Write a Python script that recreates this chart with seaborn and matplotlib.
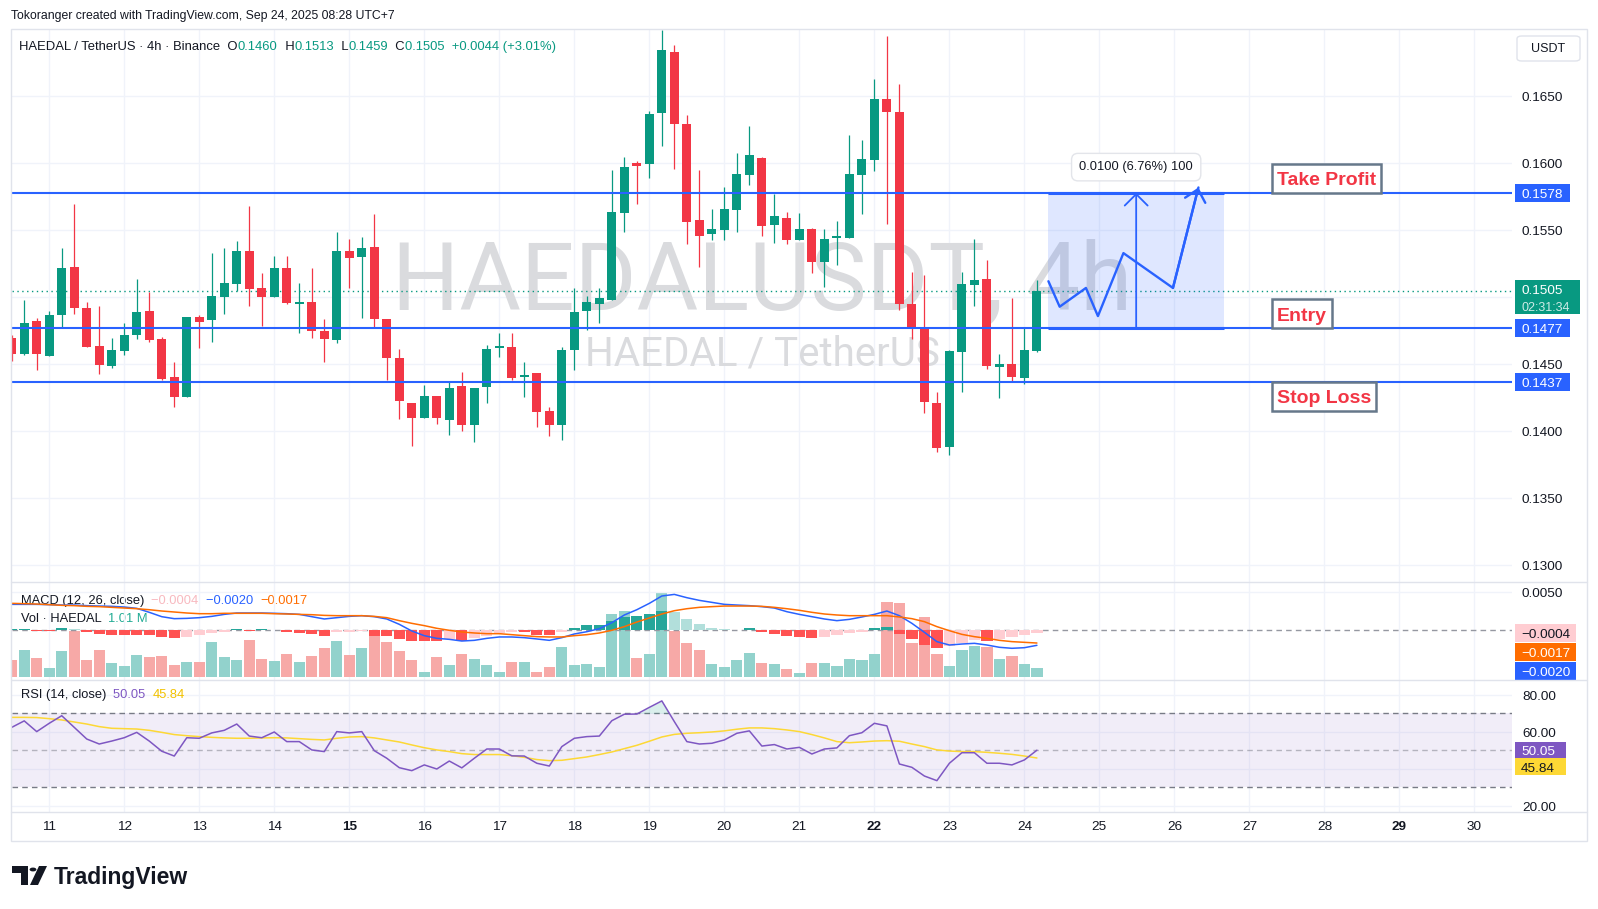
import numpy as np
import pandas as pd
import seaborn as sns
import matplotlib.pyplot as plt
from matplotlib.patches import Rectangle, FancyBboxPatch, Polygon, Circle
from matplotlib.transforms import Bbox, TransformedBbox

sns.set_theme(style='white')
plt.rcParams['font.family'] = ['Liberation Sans', 'DejaVu Sans']

# ---------------- data (4h candles, HAEDAL/USDT) ----------------
first_day = 10.5   # first candle, Sep 10 12:00

opens = [0.14696, 0.14579, 0.14823, 0.14564, 0.14868, 0.15226, 0.14920, 0.14637, 0.14490, 0.14602,
         0.14719, 0.14898, 0.14689, 0.14405, 0.14258, 0.14853, 0.14833, 0.15005, 0.15102, 0.15346,
         0.15070, 0.15005, 0.15219, 0.14953, 0.14965, 0.14749, 0.14684, 0.15346, 0.15303, 0.15376,
         0.14838, 0.14547, 0.14211, 0.14102, 0.14263, 0.14087, 0.14338, 0.14050, 0.14333, 0.14624,
         0.14629, 0.14408, 0.14434, 0.14151, 0.14049, 0.14608, 0.14899, 0.14949, 0.14979, 0.15631,
         0.16002, 0.15997, 0.16377, 0.16830, 0.16293, 0.15576, 0.15474, 0.15504, 0.15653, 0.15915,
         0.16042, 0.15541, 0.15591, 0.15429, 0.15509, 0.15265, 0.15444, 0.15444, 0.15915, 0.16027,
         0.16479, 0.16385, 0.14949, 0.14775, 0.14210, 0.13884, 0.14593, 0.15094, 0.15136, 0.14482,
         0.14504, 0.14399, 0.14600]
highs = [0.14716, 0.14980, 0.14846, 0.14898, 0.15368, 0.15697, 0.14965, 0.14933, 0.14696, 0.14808,
         0.15137, 0.15040, 0.14704, 0.14517, 0.14853, 0.14868, 0.15331, 0.15368, 0.15420, 0.15682,
         0.15181, 0.15308, 0.15308, 0.15107, 0.15219, 0.14838, 0.15488, 0.15435, 0.15450, 0.15622,
         0.14838, 0.14614, 0.14211, 0.14346, 0.14263, 0.14368, 0.14443, 0.14323, 0.14644, 0.14734,
         0.14734, 0.14517, 0.14434, 0.14180, 0.14628, 0.15069, 0.15009, 0.15069, 0.15949, 0.16046,
         0.16017, 0.16390, 0.16994, 0.16882, 0.16360, 0.15949, 0.15658, 0.15823, 0.16076, 0.16278,
         0.16050, 0.15770, 0.15636, 0.15628, 0.15517, 0.15509, 0.15569, 0.16211, 0.16173, 0.16629,
         0.16950, 0.16591, 0.15186, 0.15163, 0.14292, 0.14606, 0.15188, 0.15434, 0.15278, 0.14576,
         0.14997, 0.14770, 0.15130]
lows = [0.14525, 0.14572, 0.14460, 0.14564, 0.14778, 0.14878, 0.14632, 0.14430, 0.14475, 0.14572,
        0.14691, 0.14669, 0.14385, 0.14184, 0.14258, 0.14624, 0.14669, 0.14878, 0.15050, 0.14938,
        0.14788, 0.15005, 0.14950, 0.14736, 0.14699, 0.14520, 0.14662, 0.15072, 0.14848, 0.14781,
        0.14385, 0.14094, 0.13893, 0.14102, 0.14057, 0.13975, 0.14005, 0.13923, 0.14214, 0.14557,
        0.14385, 0.14258, 0.14034, 0.13966, 0.13937, 0.14459, 0.14758, 0.14810, 0.14979, 0.15489,
        0.15698, 0.15892, 0.16131, 0.15959, 0.15400, 0.15228, 0.15429, 0.15429, 0.15489, 0.15840,
        0.15459, 0.15407, 0.15400, 0.15429, 0.15183, 0.15079, 0.15243, 0.15444, 0.15623, 0.15944,
        0.15549, 0.14907, 0.14691, 0.14138, 0.13845, 0.13825, 0.14295, 0.14937, 0.14467, 0.14250,
        0.14377, 0.14355, 0.14590]
closes = [0.14579, 0.14808, 0.14579, 0.14868, 0.15219, 0.14923, 0.14632, 0.14497, 0.14607, 0.14719,
          0.14890, 0.14684, 0.14393, 0.14258, 0.14853, 0.14818, 0.15010, 0.15107, 0.15346, 0.15065,
          0.15005, 0.15219, 0.14958, 0.14963, 0.14751, 0.14691, 0.15346, 0.15296, 0.15368, 0.14841,
          0.14550, 0.14229, 0.14102, 0.14263, 0.14102, 0.14323, 0.14050, 0.14323, 0.14614, 0.14634,
          0.14400, 0.14415, 0.14146, 0.14049, 0.14606, 0.14890, 0.14964, 0.14994, 0.15636, 0.15972,
          0.15982, 0.16367, 0.16845, 0.16295, 0.15564, 0.15459, 0.15509, 0.15658, 0.15920, 0.16061,
          0.15534, 0.15606, 0.15429, 0.15509, 0.15265, 0.15434, 0.15454, 0.15920, 0.16032, 0.16479,
          0.16385, 0.14952, 0.14773, 0.14220, 0.13877, 0.14598, 0.15099, 0.15128, 0.14489, 0.14499,
          0.14407, 0.14610, 0.15050]
volumes = [1.9, 3.0, 2.1, 1.0, 2.9, 5.1, 1.9, 3.0, 1.6, 1.2,
           2.4, 2.2, 2.3, 1.3, 1.7, 1.7, 3.9, 2.2, 1.9, 4.1,
           2.0, 1.8, 2.6, 1.7, 2.3, 3.2, 4.0, 2.4, 3.2, 4.6,
           3.9, 2.9, 1.9, 0.55, 2.2, 1.3, 2.6, 2.0, 1.3, 0.55,
           1.7, 1.7, 0.55, 1.1, 3.3, 1.3, 1.4, 1.1, 7.0, 7.3,
           2.1, 2.6, 9.3, 5.1, 3.8, 3.0, 1.4, 1.1, 1.9, 2.7,
           1.6, 1.4, 0.9, 0.45, 1.6, 1.6, 1.2, 2.0, 1.9, 2.6,
           8.3, 8.2, 3.8, 6.7, 2.6, 1.2, 3.0, 3.4, 3.3, 2.0,
           2.3, 1.4, 1.01]  # millions
macd_line = [0.00335, 0.00335, 0.00335, 0.00331, 0.00326, 0.00326, 0.00318, 0.00313, 0.00309, 0.00300,
             0.00283, 0.00231, 0.00174, 0.00148, 0.00152, 0.00161, 0.00178, 0.00204, 0.00222, 0.00222,
             0.00222, 0.00218, 0.00213, 0.00204, 0.00174, 0.00144, 0.00161, 0.00178, 0.00187, 0.00174,
             0.00144, 0.00074, -0.00013, -0.00074, -0.00109, -0.00122, -0.00144, -0.00135, -0.00109, -0.00091,
             -0.00091, -0.00100, -0.00117, -0.00135, -0.00100, -0.00052, -0.00022, 0.00017, 0.00096, 0.00196,
             0.00265, 0.00348, 0.00444, 0.00465, 0.00422, 0.00387, 0.00361, 0.00335, 0.00326, 0.00318,
             0.00305, 0.00287, 0.00239, 0.00204, 0.00174, 0.00144, 0.00122, 0.00139, 0.00170, 0.00204,
             0.00248, 0.00187, 0.00087, -0.00030, -0.00152, -0.00196, -0.00183, -0.00174, -0.00196, -0.00226,
             -0.00239, -0.00231, -0.00200]
signal_line = [0.00348, 0.00344, 0.00339, 0.00331, 0.00322, 0.00318, 0.00309, 0.00305, 0.00296, 0.00287,
               0.00278, 0.00265, 0.00248, 0.00235, 0.00222, 0.00213, 0.00213, 0.00218, 0.00218, 0.00218,
               0.00218, 0.00213, 0.00209, 0.00204, 0.00200, 0.00191, 0.00187, 0.00187, 0.00187, 0.00178,
               0.00161, 0.00122, 0.00087, 0.00057, 0.00022, -0.00004, -0.00026, -0.00039, -0.00048, -0.00048,
               -0.00061, -0.00074, -0.00087, -0.00091, -0.00091, -0.00074, -0.00061, -0.00039, -0.00004, 0.00044,
               0.00104, 0.00157, 0.00209, 0.00252, 0.00278, 0.00296, 0.00305, 0.00313, 0.00313, 0.00313,
               0.00309, 0.00296, 0.00278, 0.00257, 0.00231, 0.00209, 0.00196, 0.00187, 0.00187, 0.00187,
               0.00187, 0.00170, 0.00148, 0.00109, 0.00044, -0.00009, -0.00057, -0.00087, -0.00109, -0.00135,
               -0.00152, -0.00161, -0.00170]
macd_hist = [0.0001, 0.0001, -0.0001, -0.0001, 0.0003, 0.0001, -0.0002, -0.0005, -0.0006, -0.0006,
             -0.0006, -0.0007, -0.0009, -0.0011, -0.0009, -0.0006, -0.0004, -0.0003, 0.0001, -0.0001,
             0.0001, 0.0000, -0.0002, -0.0004, -0.0005, -0.0008, -0.0003, -0.0002, -0.0001, -0.0008,
             -0.0008, -0.0012, -0.0014, -0.0015, -0.0015, -0.0012, -0.0014, -0.0011, -0.0008, -0.0004,
             -0.0003, -0.0003, -0.0006, -0.0007, -0.0002, 0.0003, 0.0006, 0.0007, 0.0012, 0.0017,
             0.0018, 0.0021, 0.0025, 0.0023, 0.0014, 0.0008, 0.0003, 0.0001, 0.00005, 0.0002,
             -0.0003, -0.0005, -0.0008, -0.0009, -0.0010, -0.0009, -0.0007, -0.0004, -0.0002, 0.0003,
             0.0004, -0.0005, -0.0012, -0.0020, -0.0024, -0.0021, -0.0017, -0.0013, -0.0014, -0.0012,
             -0.0009, -0.0007, -0.0004]
rsi_vals = [62.4, 65.9, 60.1, 64.6, 68.7, 62.4, 56.1, 53.4, 55.0, 56.8,
            59.7, 55.0, 49.5, 46.9, 56.8, 56.5, 59.4, 60.8, 64.2, 57.7,
            56.8, 59.9, 54.7, 54.7, 50.2, 49.3, 60.1, 59.4, 60.1, 49.8,
            45.7, 40.6, 39.0, 42.1, 39.9, 44.2, 40.5, 45.7, 50.7, 50.7,
            47.0, 46.9, 43.0, 41.5, 52.0, 56.5, 57.4, 57.7, 66.0, 69.5,
            69.6, 73.2, 76.7, 65.5, 54.7, 53.4, 53.8, 55.6, 59.2, 60.5,
            52.3, 53.1, 50.7, 51.6, 48.0, 50.7, 51.3, 57.9, 59.5, 64.6,
            63.2, 42.6, 40.8, 36.1, 33.6, 43.0, 48.7, 48.7, 43.0, 43.0,
            42.1, 44.8, 50.05]
rsi_ma = [67.8, 67.8, 67.7, 67.1, 66.4, 65.3, 64.2, 62.8, 61.9, 61.7,
          61.5, 60.8, 59.7, 58.5, 57.9, 57.4, 57.0, 56.7, 56.5, 56.5,
          56.7, 56.8, 56.7, 56.3, 55.9, 55.6, 56.5, 57.2, 57.4, 56.7,
          55.6, 54.5, 52.9, 51.4, 50.2, 49.3, 48.2, 47.7, 47.7, 47.7,
          47.1, 46.2, 45.0, 44.4, 44.6, 45.5, 46.4, 47.7, 49.1, 50.9,
          52.7, 54.9, 57.2, 58.6, 59.2, 59.5, 59.9, 60.5, 61.4, 62.1,
          62.1, 61.7, 61.0, 60.1, 58.5, 56.7, 54.7, 54.1, 54.5, 55.0,
          55.2, 54.9, 53.4, 52.0, 50.2, 49.6, 49.3, 49.3, 48.9, 48.4,
          47.8, 46.9, 45.84]

# trade plan drawn on the chart
levels = [0.1578, 0.1477, 0.1437]
level_names = ['Take Profit', 'Entry', 'Stop Loss']
label_above = [True, True, False]
box_days = [24.32, 26.66]
arrow_day = 25.49
path_days = [24.32, 24.47, 24.82, 24.98, 25.32, 25.98, 26.32]
path_prices = [0.1512, 0.1493, 0.1507, 0.1486, 0.1533, 0.1507, 0.1582]
measure_text = '0.0100 (6.76%) 100'
countdown = '02:31:34'

price_ticks = [0.1300, 0.1350, 0.1400, 0.1450, 0.1500, 0.1550, 0.1600, 0.1650]
price_tick_labels = [0.1300, 0.1350, 0.1400, 0.1450, 0.1550, 0.1600, 0.1650]  # 0.1500 sits under the price tag
day_ticks = [11, 12, 13, 14, 15, 16, 17, 18, 19, 20, 21, 22, 23, 24, 25, 26, 27, 28, 29, 30]
bold_days = [15, 22, 29]
rsi_ticks = [80, 60, 40, 20]

df = pd.DataFrame({'open': opens, 'high': highs, 'low': lows, 'close': closes,
                   'vol': volumes, 'macd': macd_line, 'signal': signal_line,
                   'hist': macd_hist, 'rsi': rsi_vals, 'rsi_ma': rsi_ma})
df['t'] = first_day + np.arange(len(df)) / 6.0

UP, DOWN = '#089981', '#F23645'
BLUE, ORANGE, PURPLE, YELLOW = '#2962FF', '#FF6D00', '#7E57C2', '#FDD835'
GRID, TEXT, BORDER = '#f0f3fa', '#131722', '#e0e3eb'

# ---------------- layout ----------------
W, H = 1598, 909
fig = plt.figure(figsize=(W / 100, H / 100), dpi=100)
fig.patch.set_facecolor('white')
L, R = 11.5, 1512
P_TOP, P_BOT, M_BOT, R_BOT = 29.5, 582.3, 680, 812


def rect(top, bottom):
    return [L / W, 1 - bottom / H, (R - L) / W, (bottom - top) / H]


ax_p = fig.add_axes(rect(P_TOP, P_BOT))
ax_v = fig.add_axes(rect(P_BOT, M_BOT))
ax_m = fig.add_axes(rect(P_BOT, M_BOT))
ax_r = fig.add_axes(rect(M_BOT, R_BOT))
for a in (ax_p, ax_v, ax_m, ax_r):
    a.set_xlim(10.497, 30.5)
    a.set_xticks([])
    a.set_yticks([])
    for s in a.spines.values():
        s.set_visible(False)
    a.set_facecolor('none')
ax_p.set_ylim(0.12873, 0.16999)
ax_v.set_ylim(-0.33, 10.52)
ax_m.set_ylim(-0.00653, 0.00623)
ax_r.set_ylim(16.65, 88.0)


def ypx(ax, v):
    return H - ax.transData.transform((20.0, v))[1]


def xpx(ax, d):
    return ax.transData.transform((d, 0.0))[0]


def ftext(x, y, s, **kw):
    return fig.text(x / W, 1 - y / H, s, **kw)


def frect(x0, y0, x1, y1, **kw):
    r = Rectangle((x0 / W, 1 - y1 / H), (x1 - x0) / W, (y1 - y0) / H,
                  transform=fig.transFigure, **kw)
    fig.add_artist(r)
    return r


# grid
for a in (ax_p, ax_v, ax_r):
    for d in day_ticks:
        a.axvline(d, color=GRID, lw=1, zorder=0)
for p in price_ticks:
    ax_p.axhline(p, color=GRID, lw=1, zorder=0)
ax_m.axhline(0.005, color=GRID, lw=1, zorder=0)
for v in rsi_ticks:
    ax_r.axhline(v, color=GRID, lw=1, zorder=0)

# watermark (inside the price pane, below the candles)
ax_p.text(762 / W, 1 - 309 / H, 'HAEDALUSDT, 4h', transform=fig.transFigure, fontsize=68,
          family='Roboto', color='#dadbde', ha='center', va='baseline', zorder=0.5)
ax_p.text(762 / W, 1 - 365 / H, 'HAEDAL / TetherUS', transform=fig.transFigure, fontsize=29,
          family='Roboto', color='#dadbde', ha='center', va='baseline', zorder=0.5)

# ---------------- candles ----------------
up = df['close'] >= df['open']
ccol = np.where(up, UP, DOWN)
ax_p.vlines(df['t'], df['low'], df['high'], colors=ccol, lw=0.9, zorder=3)
body = np.maximum((df['close'] - df['open']).abs(), 0.0001)
ax_p.bar(df['t'], body, bottom=np.minimum(df['open'], df['close']), width=0.12,
         color=ccol, lw=0, zorder=4)

# current price dotted line
ax_p.axhline(df['close'].iloc[-1], color=UP, lw=1, ls=(0, (1, 2.5)), zorder=2)

# trade levels
for lvl in levels:
    ax_p.axhline(lvl, color=BLUE, lw=1.5, zorder=5)

# long position box
tp, entry = levels[0], levels[1]
ax_p.add_patch(Rectangle((box_days[0], entry), box_days[1] - box_days[0], tp - entry,
                         fc=BLUE, alpha=0.15, lw=0, zorder=2))
ax_p.hlines([tp, entry], box_days[0], box_days[1], color=BLUE, lw=2.2, zorder=6)
ax_p.annotate('', xy=(arrow_day, tp), xytext=(arrow_day, entry),
              arrowprops=dict(arrowstyle='->,head_length=0.55,head_width=0.55', color=BLUE,
                              lw=1.3, shrinkA=0, shrinkB=0, mutation_scale=15), zorder=7)
sns.lineplot(x=path_days, y=path_prices, ax=ax_p, color=BLUE, lw=1.7, sort=False,
             estimator=None, zorder=7)
ax_p.annotate('', xy=(path_days[-1], path_prices[-1]), xytext=(path_days[-2], path_prices[-2]),
              arrowprops=dict(arrowstyle='->,head_length=0.55,head_width=0.5', color=BLUE,
                              lw=1.7, shrinkA=0, shrinkB=0, mutation_scale=15), zorder=7)
ax_p.annotate(measure_text, xy=(arrow_day, tp), xytext=(0, 18.5), textcoords='offset points',
              ha='center', va='center', fontsize=9.3, color=TEXT, zorder=8,
              bbox=dict(boxstyle='round,pad=0.6,rounding_size=0.5', fc='white', ec='#e3e5ea', lw=1))

# level labels (Take Profit / Entry / Stop Loss)
label_texts = []
for name, lvl, above in zip(level_names, levels, label_above):
    yl = ypx(ax_p, lvl)
    yc = yl - 14.5 if above else yl + 14.5
    t_ = ftext(1276.7, yc + 7, name, fontsize=14, fontweight='bold', color=DOWN,
               ha='left', va='baseline', zorder=9)
    label_texts.append((t_, yl, above))
fig.canvas.draw()
for t_, yl, above in label_texts:
    ext = t_.get_window_extent()
    y0, y1 = (yl - 29, yl) if above else (yl, yl + 29)
    frect(1271.7, y0, ext.x1 + 5, y1, fc='white', ec='#66788a', lw=1.8, zorder=8)

# ---------------- volume + MACD ----------------
vcol = np.where(up, '#92D2CC', '#F7A9A7')
ax_v.bar(df['t'], df['vol'], width=0.15, color=vcol, lw=0, zorder=1)

h = df['hist'].to_numpy()
prev = np.r_[h[0], h[:-1]]
hcol = np.where(h >= 0, np.where(h >= prev, '#26A69A', '#B2DFDB'),
                np.where(h > prev, '#FFCDD2', '#FF5252'))
ax_m.bar(df['t'], h, width=0.15, color=hcol, lw=0, zorder=2)
ax_m.axhline(0, color='#9598a1', lw=1, ls=(0, (4, 3)), zorder=1)
sns.lineplot(data=df, x='t', y='macd', ax=ax_m, color=BLUE, lw=1.1, zorder=3)
sns.lineplot(data=df, x='t', y='signal', ax=ax_m, color=ORANGE, lw=1.1, zorder=3)

# ---------------- RSI ----------------
ax_r.axhspan(30, 70, color=PURPLE, alpha=0.1, lw=0, zorder=0)
for v, al in ((70, 1.0), (50, 0.5), (30, 1.0)):
    ax_r.axhline(v, color='#787B86', lw=1, ls=(0, (4, 3)), alpha=al, zorder=1)
rsi_arr = df['rsi'].to_numpy()
ax_r.fill_between(df['t'], 70, rsi_arr, where=rsi_arr >= 70, interpolate=True,
                  color=UP, alpha=0.15, lw=0, zorder=1)
sns.lineplot(data=df, x='t', y='rsi_ma', ax=ax_r, color=YELLOW, lw=1.1, zorder=2)
sns.lineplot(data=df, x='t', y='rsi', ax=ax_r, color=PURPLE, lw=1.1, zorder=3)
for a in (ax_p, ax_v, ax_m, ax_r):
    a.set_xlabel('')
    a.set_ylabel('')

# ---------------- frame, separators ----------------
frect(10.5, 28.5, 1586.5, 841, fill=False, ec=BORDER, lw=1, zorder=10)
for yy in (P_BOT, M_BOT, R_BOT):
    fig.add_artist(plt.Line2D([10.5 / W, 1586.5 / W], [1 - yy / H, 1 - yy / H],
                              transform=fig.transFigure, color=BORDER, lw=1, zorder=10))

# ---------------- right scale ----------------
AX_FS = 9.7
for p in price_tick_labels:
    ftext(1522, ypx(ax_p, p) + 4.8, f'{p:.4f}', fontsize=AX_FS, color=TEXT, va='baseline', zorder=3)


def tag(yc, text, fc, tc, h=18.4, right=1569.5, top=None, bottom=None):
    y0 = yc - h / 2 if top is None else top
    y1 = yc + h / 2 if bottom is None else bottom
    frect(1514.5, y0, right, y1, fc=fc, ec='none', zorder=5)
    ftext(1521, yc + 4.8, text, fontsize=AX_FS, color=tc, va='baseline', zorder=6)


for lvl in levels:
    tag(ypx(ax_p, lvl), f'{lvl:.4f}', BLUE, 'white')
last = df.iloc[-1]
yc = ypx(ax_p, last['close'])
tag(yc - 1.8, f"{last['close']:.4f}", UP, 'white', right=1580, top=yc - 11, bottom=yc + 23)
ftext(1521, yc + 20.5, countdown, fontsize=9.0, color='#cdebe6', va='baseline', zorder=6)

# MACD scale
ftext(1522, ypx(ax_m, 0.005) + 4.8, '0.0050', fontsize=AX_FS, color=TEXT, va='baseline')
macd_tags = [(last['hist'], '#FFCDD2', TEXT), (last['signal'], ORANGE, 'white'),
             (last['macd'], BLUE, 'white')]
prev_c = -1e9
for val, fc, tc in macd_tags:
    c = max(ypx(ax_m, val), prev_c + 19.2)
    tag(c, f'{val:.4f}'.replace('-', '\u2212'), fc, tc, right=1576)
    prev_c = c

# RSI scale
clip = TransformedBbox(Bbox([[0, 1 - R_BOT / H], [1, 1 - M_BOT / H]]), fig.transFigure)
for v in rsi_ticks:
    tt = ftext(1522, ypx(ax_r, v) + 4.8, f'{v:.2f}', fontsize=AX_FS, color=TEXT, va='baseline')
    tt.set_clip_box(clip)
    tt.set_clip_on(True)
prev_c = -1e9
for val, fc, tc in ((last['rsi'], PURPLE, 'white'), (last['rsi_ma'], YELLOW, TEXT)):
    c = max(ypx(ax_r, val), prev_c + 16.5)
    tag(c, f'{val:.2f}', fc, tc, h=16.5, right=1566)
    prev_c = c

# date axis
for d in day_ticks:
    ftext(xpx(ax_r, d), 830.5, str(d), fontsize=AX_FS, color=TEXT, ha='center', va='baseline',
          fontweight='bold' if d in bold_days else 'normal')


# ---------------- legends ----------------
def chain(ax, parts, x, y, size):
    prev_t = None
    for s, c in parts:
        if prev_t is None:
            prev_t = ax.annotate(s, xy=(x / W, 1 - y / H), xycoords='figure fraction',
                                 ha='left', va='center', color=c, fontsize=size,
                                 annotation_clip=False, zorder=9)
        else:
            prev_t = ax.annotate(s, xy=(1, 0.5), xycoords=prev_t, ha='left', va='center',
                                 color=c, fontsize=size, annotation_clip=False, zorder=9)


ftext(11, 16, 'Tokoranger created with TradingView.com, Sep 24, 2025 08:28 UTC+7',
      fontsize=8.8, color=TEXT, va='center')
prev_close = df['close'].iloc[-2]
chg = last['close'] - prev_close
chain(ax_p, [('HAEDAL / TetherUS \u00b7 4h \u00b7 Binance  O', TEXT), (f"{last['open']:.4f}", UP),
             ('  H', TEXT), (f"{last['high']:.4f}", UP), ('  L', TEXT), (f"{last['low']:.4f}", UP),
             ('  C', TEXT), (f"{last['close']:.4f}  +{chg:.4f} (+{chg / prev_close * 100:.2f}%)", UP)],
      19.3, 47, 9.4)


def fmt(v):
    return f'{v:.4f}'.replace('-', '\u2212')


chain(ax_p, [('MACD (12, 26, close)  ', TEXT), (fmt(last['hist']) + '  ', '#f8b9c0'),
             (fmt(last['macd']) + '  ', BLUE), (fmt(last['signal']), ORANGE)], 20.7, 601, 9.3)
chain(ax_p, [('Vol \u00b7 HAEDAL  ', TEXT), (f"{last['vol']:.2f} M", '#22ab94')], 20.7, 619.5, 9.3)
chain(ax_r, [('RSI (14, close)  ', TEXT), (f"{last['rsi']:.2f}  ", PURPLE), (f"{last['rsi_ma']:.2f}", '#f2c200')],
      20.7, 695, 9.3)

# currency button
fig.add_artist(FancyBboxPatch((1517 / W, 1 - 61 / H), 63 / W, 25 / H,
                              boxstyle='round,pad=0,rounding_size=0.003',
                              transform=fig.transFigure, fc='white', ec=BORDER, lw=1))
ftext(1548.5, 48.5, 'USDT', fontsize=9, color=TEXT, ha='center', va='center')

# TradingView logo
logo_t = Polygon([(12 / W, 1 - 866 / H), (28 / W, 1 - 866 / H), (28 / W, 1 - 885 / H),
                  (21 / W, 1 - 885 / H), (21 / W, 1 - 873 / H), (12 / W, 1 - 873 / H)],
                 closed=True, transform=fig.transFigure, fc=TEXT, ec='none')
fig.add_artist(logo_t)
fig.add_artist(Circle((33 / W, 1 - 869.5 / H), 3.4 / W, transform=fig.transFigure, fc=TEXT, ec='none'))
logo_v = Polygon([(39 / W, 1 - 866 / H), (47 / W, 1 - 866 / H), (38 / W, 1 - 885 / H),
                  (30 / W, 1 - 885 / H)], closed=True, transform=fig.transFigure, fc=TEXT, ec='none')
fig.add_artist(logo_v)
ftext(54, 884, 'TradingView', fontsize=16.5, fontweight='bold', color=TEXT, va='baseline')

fig.savefig('out.png', dpi=100)
